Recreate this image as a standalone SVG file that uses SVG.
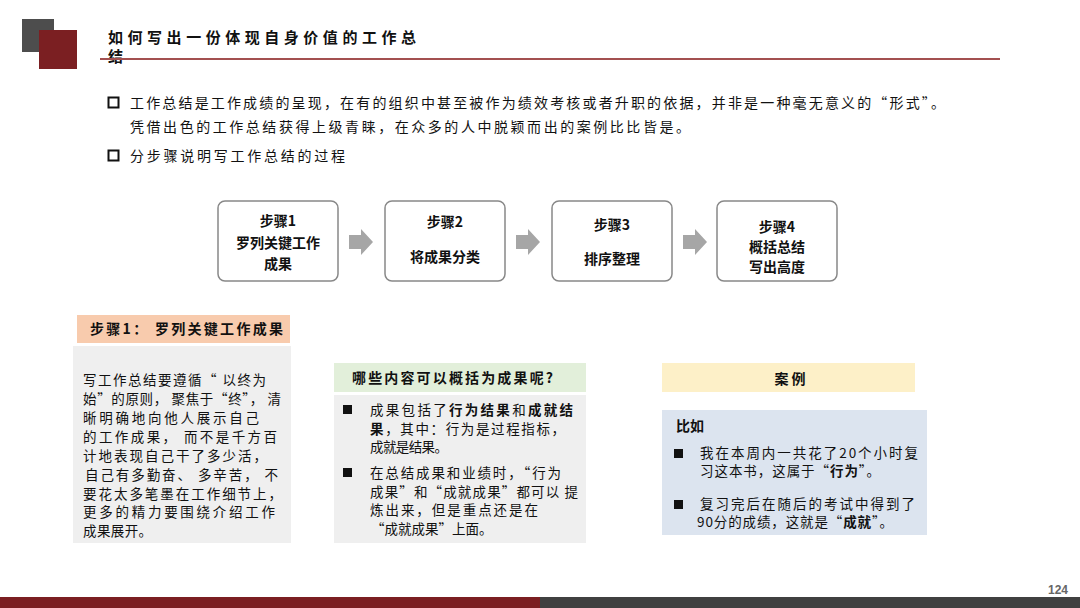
<svg xmlns="http://www.w3.org/2000/svg" width="1080" height="608" viewBox="0 0 1080 608">
<defs>
<style>
text{font-family:"Noto Sans CJK SC","Liberation Sans",sans-serif;fill:#111;}
.t14{font-size:14px;}
.t13{font-size:13.5px;}
.b{font-weight:bold;}
.step{fill:#fff;stroke:#888;stroke-width:1.5;}
.arr{fill:#a6a6a6;}
.bul{fill:#111;}
</style>
</defs>
<rect width="1080" height="608" fill="#fff"/>
<g id="header">
<rect x="22" y="19" width="32" height="33" fill="#4d4d4d"/>
<rect x="39" y="30" width="38" height="39" fill="#7b1f22"/>
<text x="108" y="43" class="b" font-size="15" textLength="308">如何写出一份体现自身价值的工作总</text>
<text x="108" y="62" class="b" font-size="15">结</text>
<line x1="100" y1="59" x2="1000" y2="59" stroke="#a35050" stroke-width="2"/>
</g>
<g id="intro">
<rect x="108.5" y="97.5" width="10" height="10" fill="none" stroke="#111" stroke-width="2"/>
<text x="130" y="108" class="t14" textLength="815">工作总结是工作成绩的呈现，在有的组织中甚至被作为绩效考核或者升职的依据，并非是一种毫无意义的“形式”。</text>
<text x="130" y="132" class="t14" textLength="560">凭借出色的工作总结获得上级青睐，在众多的人中脱颖而出的案例比比皆是。</text>
<rect x="108.5" y="150.5" width="10" height="10" fill="none" stroke="#111" stroke-width="2"/>
<text x="130" y="161" class="t14" textLength="215">分步骤说明写工作总结的过程</text>
</g>
<g id="step1">
<rect class="step" x="218" y="201" width="120" height="80" rx="7"/>
<text x="278" y="226" class="t14 b" text-anchor="middle">步骤1</text>
<text x="278" y="248" class="t14 b" text-anchor="middle">罗列关键工作</text>
<text x="278" y="269" class="t14 b" text-anchor="middle">成果</text>
</g>
<g id="step2">
<rect class="step" x="385" y="201" width="120" height="80" rx="7"/>
<text x="445" y="227" class="t14 b" text-anchor="middle">步骤2</text>
<text x="445" y="262" class="t14 b" text-anchor="middle">将成果分类</text>
</g>
<g id="step3">
<rect class="step" x="552" y="201" width="120" height="80" rx="7"/>
<text x="612" y="230" class="t14 b" text-anchor="middle">步骤3</text>
<text x="612" y="264" class="t14 b" text-anchor="middle">排序整理</text>
</g>
<g id="step4">
<rect class="step" x="717" y="201" width="120" height="80" rx="7"/>
<text x="777" y="232" class="t14 b" text-anchor="middle">步骤4</text>
<text x="777" y="252" class="t14 b" text-anchor="middle">概括总结</text>
<text x="777" y="272" class="t14 b" text-anchor="middle">写出高度</text>
</g>
<g id="connectors">
<path class="arr" d="M349,235 H361 V229 L373,242 L361,255 V249 H349 Z"/>
<path class="arr" d="M516,235 H528 V229 L540,242 L528,255 V249 H516 Z"/>
<path class="arr" d="M683,235 H695 V229 L707,242 L695,255 V249 H683 Z"/>
</g>
<g id="left-panel">
<rect x="77" y="315" width="213" height="28" fill="#f8cbad"/>
<text x="90" y="334" class="t14 b" textLength="193">步骤1： 罗列关键工作成果</text>
<rect x="73" y="346" width="218" height="197" fill="#efefef"/>
<g class="t13">
<text x="83" y="385" textLength="183">写工作总结要遵循“ 以终为</text>
<text x="83" y="404" textLength="198">始”的原则， 聚焦于“终”， 清</text>
<text x="83" y="423" textLength="176">晰明确地向他人展示自己</text>
<text x="83" y="442" textLength="194">的工作成果， 而不是千方百</text>
<text x="83" y="461" textLength="184">计地表现自己干了多少活，</text>
<text x="85" y="480" textLength="193">自己有多勤奋、 多辛苦， 不</text>
<text x="83" y="499" textLength="199">要花太多笔墨在工作细节上，</text>
<text x="83" y="517" textLength="192">更多的精力要围绕介绍工作</text>
<text x="83" y="536" textLength="69">成果展开。</text>
</g>
</g>
<g id="middle-panel">
<rect x="334" y="363" width="252" height="29" fill="#e2efda"/>
<text x="352" y="383" class="t14 b" textLength="201">哪些内容可以概括为成果呢?</text>
<rect x="334" y="395" width="252" height="148" fill="#efefef"/>
<rect class="bul" x="343" y="405" width="9" height="9"/>
<rect class="bul" x="343" y="468" width="9" height="9"/>
<g class="t13">
<text x="370" y="415" textLength="203">成果包括了<tspan class="b">行为结果</tspan>和<tspan class="b">成就结</tspan></text>
<text x="370" y="434" textLength="195"><tspan class="b">果</tspan>，其中：行为是过程指标，</text>
<text x="370" y="452" textLength="78">成就是结果。</text>
<text x="370" y="478" textLength="191">在总结成果和业绩时，“行为</text>
<text x="370" y="497" textLength="208">成果”和“成就成果”都可以    提</text>
<text x="370" y="515" textLength="168">炼出来，但是重点还是在</text>
<text x="371" y="534">“成就成果”上面。</text>
</g>
</g>
<g id="right-panel">
<rect x="662" y="363" width="253" height="29" fill="#fdf0c8"/>
<text x="790" y="384" class="t14 b" text-anchor="middle">案  例</text>
<rect x="662" y="410" width="265" height="125" fill="#dce4ef"/>
<text x="676" y="431" class="t14 b">比如</text>
<rect class="bul" x="674" y="449" width="9" height="9"/>
<rect class="bul" x="674" y="500" width="9" height="9"/>
<g class="t13">
<text x="700" y="458" textLength="218">我在本周内一共花了20个小时复</text>
<text x="700" y="476" textLength="180">习这本书，这属于“<tspan class="b">行为</tspan>”。</text>
<text x="700" y="509" textLength="215">复习完后在随后的考试中得到了</text>
<text x="697" y="527" textLength="196">90分的成绩，这就是“<tspan class="b">成就</tspan>”。</text>
</g>
</g>
<g id="footer">
<rect x="0" y="597" width="540" height="11" fill="#7b1f22"/>
<rect x="540" y="597" width="540" height="11" fill="#404040"/>
<text x="1068" y="594" font-size="12" text-anchor="end" style="fill:#666;font-family:'Liberation Sans Narrow','Liberation Sans',sans-serif;font-weight:bold">124</text>
</g>
</svg>
